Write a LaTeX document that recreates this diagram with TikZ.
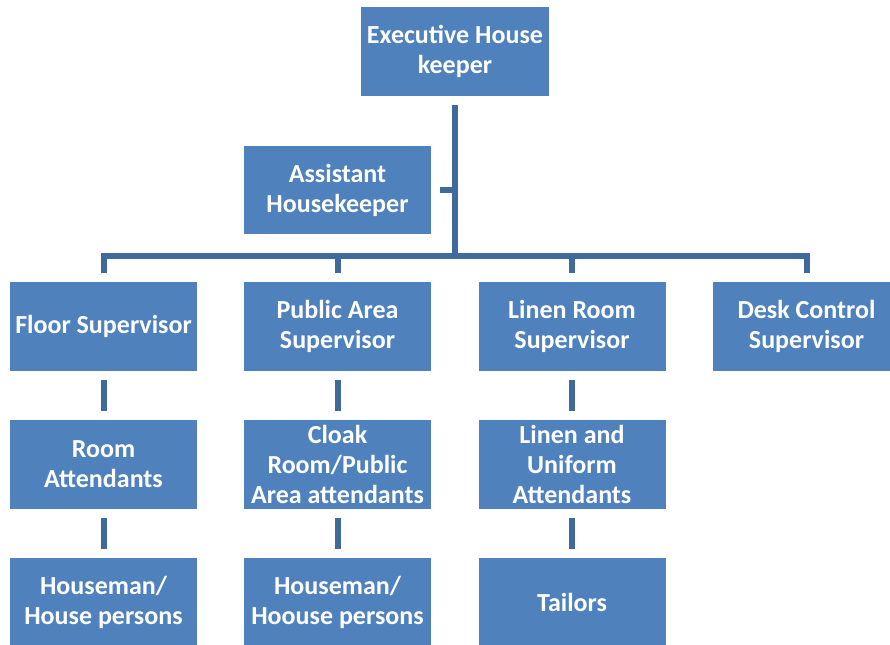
\documentclass[tikz,border=0pt]{standalone}
\usepackage{fontspec}
\setmainfont{Carlito}
\definecolor{boxblue}{HTML}{4F81BD}
\definecolor{lineblue}{HTML}{3F6A9C}

\begin{document}
\begin{tikzpicture}[x=0.03cm, y=-0.03cm,
    post/.style={fill=boxblue, text=white, minimum width=5.61cm, minimum height=2.655cm,
        align=center, inner sep=0pt, outer sep=0.27cm, font=\bfseries\fontsize{22.2}{25.6}\selectfont},
    link/.style={draw=lineblue, line width=0.18cm},
    node distance=4.14cm]
    \useasboundingbox (0,0) rectangle (890,645);
    \clip (0,0) rectangle (890,645);

    \node[post] (exec) at (455,51.5) {Executive House\\keeper};
    \node[post] (asst) at (337.5,190) {Assistant\\Housekeeper};

    \node[post] (floor) at (103.5,326.5) {Floor Supervisor};
    \node[post] (public) at (337.5,326.5) {Public Area\\Supervisor};
    \node[post] (linen) at (572,326.5) {Linen Room\\Supervisor};
    \node[post] (desk) at (806.5,326.5) {Desk Control\\Supervisor};

    \node[post, below of=floor] (room) {Room\\Attendants};
    \node[post, below of=room] (house) {Houseman/\\House persons};
    \node[post, below of=public] (cloak) {Cloak\\Room/Public\\Area attendants};
    \node[post, below of=cloak] (hoouse) {Houseman/\\Hoouse persons};
    \node[post, below of=linen] (uniform) {Linen and\\Uniform\\Attendants};
    \node[post, below of=uniform] (tailors) {Tailors};

    \coordinate (bar) at (455,256);

    \draw[link] (exec) -- (exec |- bar);
    \draw[link] (asst) -- (asst -| exec);
    \draw[link] (floor) -- (floor |- bar) -- (desk |- bar) -- (desk);
    \draw[link] (public) -- (public |- bar);
    \draw[link] (linen) -- (linen |- bar);

    \draw[link] (floor) -- (room);
    \draw[link] (room) -- (house);
    \draw[link] (public) -- (cloak);
    \draw[link] (cloak) -- (hoouse);
    \draw[link] (linen) -- (uniform);
    \draw[link] (uniform) -- (tailors);
\end{tikzpicture}
\end{document}
